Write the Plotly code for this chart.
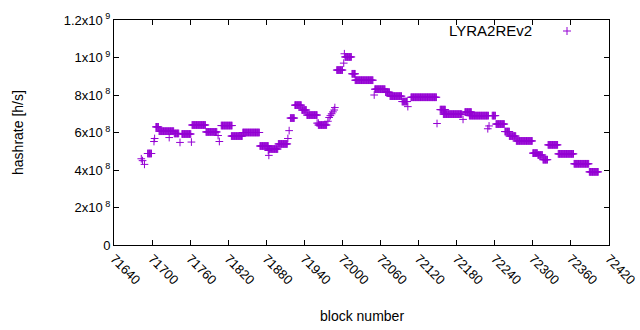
import numpy as np
import plotly.graph_objects as go

# Runs of consecutive blocks sharing the same estimated hashrate
run_start = [71693, 71706, 71711, 71735, 71747, 71763, 71785, 71809, 71825, 71843,
             71870, 71884, 71899, 71918, 71925, 71936, 71944, 71962, 71991, 72004,
             72015, 72020, 72051, 72068, 72075, 72094, 72108, 72154, 72159, 72193,
             72200, 72236, 72242, 72256, 72263, 72274, 72300, 72308, 72316, 72324,
             72340, 72365, 72389]
run_end = [71699, 71710, 71734, 71742, 71761, 71784, 71802, 71826, 71842, 71869,
           71883, 71898, 71913, 71924, 71935, 71943, 71960, 71975, 72000, 72014,
           72020, 72048, 72067, 72074, 72093, 72102, 72148, 72162, 72188, 72203,
           72230, 72241, 72255, 72263, 72273, 72299, 72307, 72315, 72323, 72339,
           72364, 72388, 72403]
run_value = [4.88e8, 6.3e8, 6.07e8, 5.95e8, 5.92e8, 6.4e8, 6.03e8, 6.37e8, 5.81e8, 6.0e8,
             5.28e8, 5.12e8, 5.39e8, 6.77e8, 7.46e8, 7.2e8, 6.93e8, 6.4e8, 9.33e8, 1.003e9,
             9.13e8, 8.79e8, 8.31e8, 8.15e8, 7.94e8, 7.65e8, 7.88e8, 7.22e8, 6.98e8, 7.09e8,
             6.9e8, 6.9e8, 6.45e8, 6.05e8, 5.81e8, 5.55e8, 4.9e8, 4.8e8, 4.55e8, 5.34e8,
             4.86e8, 4.33e8, 3.9e8]

# Isolated blocks
single_block = [71683, 71685, 71688, 71703, 71704, 71727, 71744, 71762, 71804, 71806,
                71883, 71884, 71914, 71916, 71960, 71962, 71977, 71979, 71981, 71983,
                71985, 71987, 71988, 72002, 72003, 72050, 72103, 72149, 72190, 72229,
                72231]
single_value = [4.6e8, 4.5e8, 4.3e8, 5.52e8, 5.68e8, 5.73e8, 5.47e8, 5.49e8, 5.84e8, 5.52e8,
                5.04e8, 4.78e8, 5.68e8, 6.1e8, 6.5e8, 6.5e8, 6.6e8, 6.8e8, 6.9e8, 7.0e8,
                7.1e8, 7.2e8, 7.33e8, 9.7e8, 1.02e9, 8.0e8, 7.38e8, 6.48e8, 6.7e8, 6.2e8,
                6.35e8]

x_ticks = [71640, 71700, 71760, 71820, 71880, 71940, 72000, 72060, 72120, 72180,
           72240, 72300, 72360, 72420]
y_ticks = [0, 2e8, 4e8, 6e8, 8e8, 1e9, 1.2e9]
y_tick_text = ["0", "2x10<sup> 8</sup>", "4x10<sup> 8</sup>", "6x10<sup> 8</sup>",
               "8x10<sup> 8</sup>", "1x10<sup> 9</sup>", "1.2x10<sup> 9</sup>"]

xs, ys = [], []
for s, e, v in zip(run_start, run_end, run_value):
    for b in range(s, e + 1):
        xs.append(b)
        ys.append(v)
xs += single_block
ys += single_value

COLOR = "#9400D3"
FONT = "Liberation Sans, Arial, sans-serif"

fig = go.Figure()
fig.add_trace(go.Scatter(
    x=xs, y=ys, mode="markers", name="LYRA2REv2",
    marker=dict(symbol="cross-thin", size=5.5, line=dict(width=1, color=COLOR), color=COLOR),
    showlegend=False, hoverinfo="skip"))

axis_common = dict(showline=True, linecolor="black", linewidth=1, mirror="ticks",
                   ticks="inside", ticklen=5, tickcolor="black", showgrid=False,
                   zeroline=False, automargin=False,
                   tickfont=dict(family=FONT, size=13, color="black"))

fig.update_xaxes(range=[71640, 72420], tickvals=x_ticks,
                 ticktext=[str(t) for t in x_ticks], tickangle=45, **axis_common)
fig.update_yaxes(range=[0, 1.2e9], tickvals=y_ticks, ticktext=y_tick_text, **axis_common)

fig.update_layout(
    width=640, height=330,
    margin=dict(l=114, r=31, t=20, b=85, autoexpand=False),
    plot_bgcolor="white", paper_bgcolor="white",
    font=dict(family=FONT, size=13, color="black"),
    annotations=[
        dict(text="block number", xref="paper", yref="paper", x=0.5, y=-0.315,
             xanchor="center", yanchor="middle", showarrow=False,
             font=dict(family=FONT, size=14, color="black")),
        dict(text="hashrate [h/s]", xref="paper", yref="paper", x=-0.195, y=0.5,
             textangle=-90, xanchor="center", yanchor="middle", showarrow=False,
             font=dict(family=FONT, size=14, color="black")),
        dict(text="LYRA2REv2", xref="paper", yref="paper", x=(534 - 114) / 495,
             y=(245 - 31) / 225, xanchor="right", yanchor="middle", showarrow=False,
             font=dict(family=FONT, size=15, color="black")),
    ],
    shapes=[
        dict(type="line", xref="paper", yref="paper",
             x0=(563 - 114) / 495, x1=(571 - 114) / 495,
             y0=(245 - 31) / 225, y1=(245 - 31) / 225, line=dict(color=COLOR, width=1)),
        dict(type="line", xref="paper", yref="paper",
             x0=(567 - 114) / 495, x1=(567 - 114) / 495,
             y0=(245 - 35) / 225, y1=(245 - 27) / 225, line=dict(color=COLOR, width=1)),
    ],
)

fig.write_html("out.html", config={"displayModeBar": False, "staticPlot": True},
               post_script="document.body.style.margin='0px';document.body.style.overflow='hidden';")
